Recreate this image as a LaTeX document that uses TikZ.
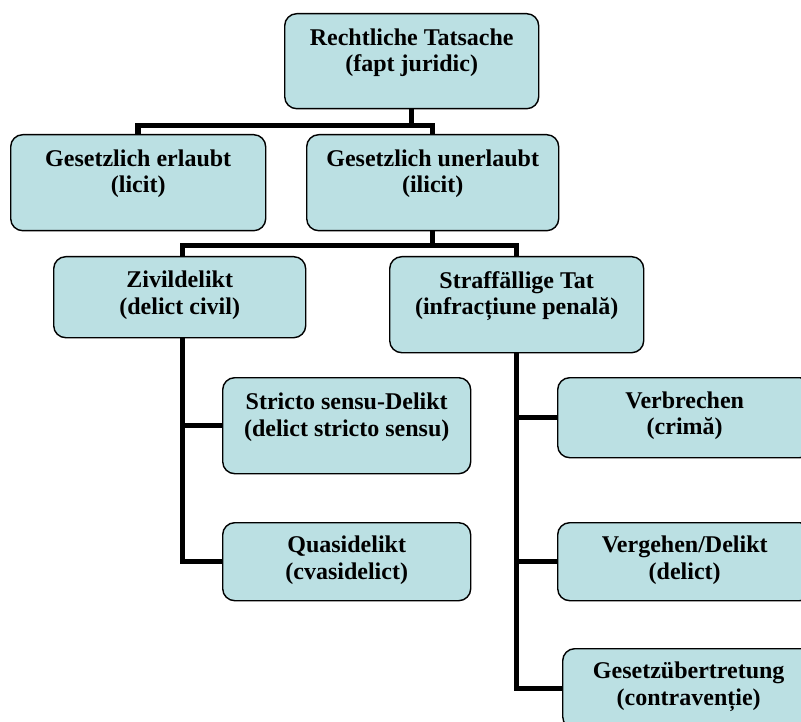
\documentclass[tikz,border=0pt]{standalone}
\usepackage{fontspec}
\setmainfont{Liberation Serif}
\definecolor{boxfill}{RGB}{187,224,227}
\begin{document}
\begin{tikzpicture}[x=1pt,y=-1pt,
  box/.style={draw=black, line width=1.4pt, fill=boxfill, rounded corners=12pt,
    anchor=north west, inner sep=0pt, minimum width=#1},
  box/.default=254pt,
  lbl/.style={anchor=north, align=center, inner sep=0pt,
    font=\fontsize{24}{26.5}\selectfont\bfseries},
  conn/.style={line width=5.5pt, line join=miter}]
\useasboundingbox (0,0) rectangle (801,722);
\clip (0,0) rectangle (801,722);
% boxes
\node[box=254pt, minimum height=95pt] (root) at (284,13) {};
\node[box=255pt, minimum height=96pt] (erl) at (10,134) {};
\node[box=252pt, minimum height=96pt] (unerl) at (306,134) {};
\node[box=252pt, minimum height=81pt] (ziv) at (53,256) {};
\node[box=254pt, minimum height=96pt] (straf) at (389,256) {};
\node[box=248pt, minimum height=96pt] (stri) at (222,377) {};
\node[box=248pt, minimum height=78pt] (quasi) at (222,522) {};
\node[box=254pt, minimum height=80pt] (verb) at (557,377) {};
\node[box=254pt, minimum height=78pt] (verg) at (557,522) {};
\node[box=252pt, minimum height=80pt] (gesu) at (562,648) {};
% labels
\node[lbl] (root-t) at ([yshift=-13.5pt]root.north) {\strut Rechtliche Tatsache\\(fapt juridic)};
\node[lbl] (erl-t) at ([yshift=-13.5pt]erl.north) {\strut Gesetzlich erlaubt\\(licit)};
\node[lbl] (unerl-t) at ([yshift=-13.5pt]unerl.north) {\strut Gesetzlich unerlaubt\\(ilicit)};
\node[lbl] (ziv-t) at ([yshift=-13pt]ziv.north) {\strut Zivildelikt\\(delict civil)};
\node[lbl] (straf-t) at ([yshift=-13.5pt]straf.north) {\strut Straffällige Tat\\(infracțiune penală)};
\node[lbl] (stri-t) at ([yshift=-14pt]stri.north) {\strut Stricto sensu-Delikt\\(delict stricto sensu)};
\node[lbl] (quasi-t) at ([yshift=-12pt]quasi.north) {\strut Quasidelikt\\(cvasidelict)};
\node[lbl] (verb-t) at ([yshift=-12.5pt]verb.north) {\strut Verbrechen\\(crimă)};
\node[lbl] (verg-t) at ([yshift=-12pt]verg.north) {\strut Vergehen/Delikt\\(delict)};
\node[lbl] (gesu-t) at ([yshift=-12pt]gesu.north) {\strut Gesetzübertretung\\(contravenție)};
% connectors
\draw[conn] (root.south) -- ++(0,16) coordinate (j1);
\draw[conn] (erl.north) |- (j1) -| (unerl.north);
\draw[conn] (unerl.south) -- ++(0,14) coordinate (j2);
\draw[conn] ([xshift=3pt]ziv.north) |- (j2) -| (straf.north);
\draw[conn] ([xshift=3pt]ziv.south) |- (stri.west);
\draw[conn] ([xshift=3pt]ziv.south) |- (quasi.west);
\draw[conn] (straf.south) |- (verb.west);
\draw[conn] (straf.south) |- (verg.west);
\draw[conn] (straf.south) |- (gesu.west);
\end{tikzpicture}
\end{document}
